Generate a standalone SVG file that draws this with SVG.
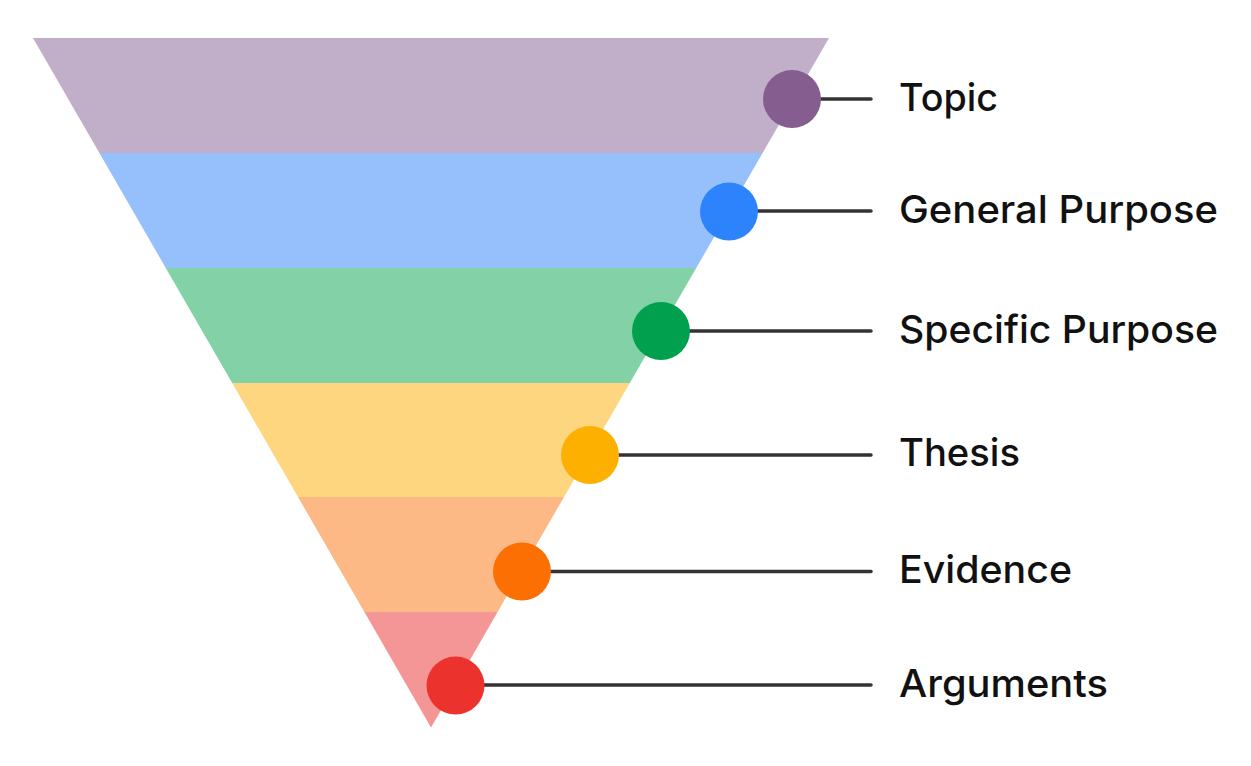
<svg xmlns="http://www.w3.org/2000/svg" width="1251" height="766" viewBox="0 0 1251 766">
<style>
.lbl{font-family:"Inter","Liberation Sans",sans-serif;font-size:38.5px;font-weight:500;fill:#111}
.con{stroke:#333;stroke-width:3.5;stroke-linecap:round;fill:none}
</style>
<rect width="1251" height="766" fill="#fff"/>
<g id="funnel">
<polygon points="33,38 829,38 762.6,153 99.4,153" fill="#C1AEC8"/>
<polygon points="99.4,153 762.6,153 696.2,268 165.8,268" fill="#96C0FC"/>
<polygon points="165.8,268 696.2,268 629.8,383 232.2,383" fill="#83D1A6"/>
<polygon points="232.2,383 629.8,383 564,497 298,497" fill="#FED680"/>
<polygon points="298,497 564,497 497.6,612 364.4,612" fill="#FCB885"/>
<polygon points="364.4,612 497.6,612 431,727.5" fill="#F49695"/>
</g>
<g id="connectors">
<line class="con" x1="792" y1="99" x2="871" y2="99"/>
<line class="con" x1="729" y1="211" x2="871" y2="211"/>
<line class="con" x1="661" y1="331" x2="871" y2="331"/>
<line class="con" x1="590" y1="455" x2="871" y2="455"/>
<line class="con" x1="522" y1="571.5" x2="871" y2="571.5"/>
<line class="con" x1="455" y1="685" x2="871" y2="685"/>
</g>
<g id="topic"><circle cx="792" cy="99" r="29" fill="#855E8F"/><text class="lbl" x="899" y="111" textLength="99" lengthAdjust="spacingAndGlyphs">Topic</text></g>
<g id="general-purpose"><circle cx="729" cy="211.5" r="29" fill="#2D83FB"/><text class="lbl" x="899" y="223" textLength="319" lengthAdjust="spacingAndGlyphs">General Purpose</text></g>
<g id="specific-purpose"><circle cx="661" cy="331" r="29" fill="#00A04F"/><text class="lbl" x="899" y="343" textLength="319" lengthAdjust="spacingAndGlyphs">Specific Purpose</text></g>
<g id="thesis"><circle cx="590" cy="455" r="29" fill="#FDB000"/><text class="lbl" x="899" y="466" textLength="121" lengthAdjust="spacingAndGlyphs">Thesis</text></g>
<g id="evidence"><circle cx="522" cy="571.5" r="29" fill="#FB6F03"/><text class="lbl" x="899" y="583" textLength="173" lengthAdjust="spacingAndGlyphs">Evidence</text></g>
<g id="arguments"><circle cx="455.5" cy="685.5" r="29" fill="#EB322C"/><text class="lbl" x="899" y="697" textLength="209" lengthAdjust="spacingAndGlyphs">Arguments</text></g>
</svg>
